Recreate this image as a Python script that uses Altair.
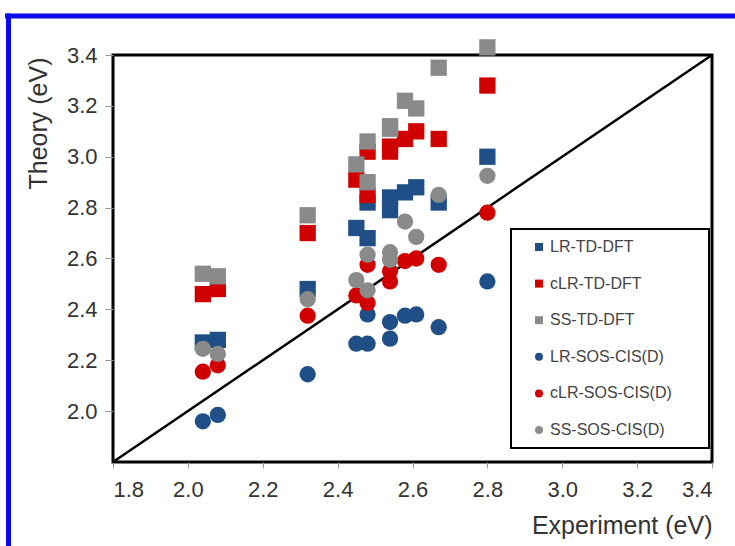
import altair as alt
import pandas as pd

series_names = ["LR-TD-DFT", "cLR-TD-DFT", "SS-TD-DFT",
                "LR-SOS-CIS(D)", "cLR-SOS-CIS(D)", "SS-SOS-CIS(D)"]
series_colors = ["#1f4f86", "#d00000", "#8a8a8a", "#1f4f86", "#d00000", "#8a8a8a"]
series_shapes = ["square", "square", "square", "circle", "circle", "circle"]

experiment = [2.04, 2.08, 2.32, 2.45, 2.48, 2.48, 2.54, 2.54, 2.58, 2.61, 2.67, 2.80]
lr_td = [2.27, 2.28, 2.48, 2.72, 2.68, 2.82, 2.79, 2.84, 2.86, 2.88, 2.82, 3.00]
clr_td = [2.46, 2.48, 2.70, 2.91, 3.02, 2.85, 3.02, 3.04, 3.07, 3.10, 3.07, 3.28]
ss_td = [2.54, 2.53, 2.77, 2.97, 3.06, 2.90, 3.11, 3.12, 3.22, 3.19, 3.35, 3.43]
lr_sos = [1.96, 1.985, 2.145, 2.265, 2.38, 2.265, 2.285, 2.35, 2.375, 2.38, 2.33, 2.51]
clr_sos = [2.155, 2.18, 2.375, 2.455, 2.575, 2.425, 2.51, 2.55, 2.59, 2.60, 2.575, 2.78]
ss_sos = [2.245, 2.225, 2.44, 2.515, 2.615, 2.475, 2.595, 2.625, 2.745, 2.685, 2.85, 2.925]

x_ticks = [1.8, 2.0, 2.2, 2.4, 2.6, 2.8, 3.0, 3.2, 3.4]
y_ticks = [2.0, 2.2, 2.4, 2.6, 2.8, 3.0, 3.2, 3.4]
diag_vals = [1.8, 3.4]

all_series = [lr_td, clr_td, ss_td, lr_sos, clr_sos, ss_sos]
rows = []
order = 0
for name, vals in zip(series_names, all_series):
    for xv, yv in zip(experiment, vals):
        rows.append({"series": name, "experiment": xv, "theory": yv, "order": order})
        order += 1
df = pd.DataFrame(rows)
diag_df = pd.DataFrame({"a": diag_vals, "b": diag_vals})
one = pd.DataFrame({"k": [0]})

FONT = "Liberation Sans"
W, H = 599, 407

xscale = alt.Scale(domain=[1.8, 3.4], nice=False, zero=False)
yscale = alt.Scale(domain=[1.8, 3.4], nice=False, zero=False)

x_axis = alt.Axis(values=x_ticks, format=".1f", grid=False, domain=False,
                  labelFont=FONT, labelFontSize=22, labelColor="#333333",
                  tickColor="#999999", tickSize=6, labelPadding=11,
                  title="Experiment (eV)", titleFont=FONT, titleFontSize=25,
                  titleFontWeight="normal", titleColor="#333333",
                  titleX=W, titleY=63, titleAlign="right", titleBaseline="middle")
y_axis = alt.Axis(values=y_ticks, format=".1f", grid=False, domain=False,
                  labelFont=FONT, labelFontSize=22, labelColor="#333333",
                  tickColor="#999999", tickSize=8, labelPadding=8,
                  title="Theory (eV)", titleFont=FONT, titleFontSize=25,
                  titleFontWeight="normal", titleColor="#333333",
                  titleX=-75, titleY=2, titleAngle=270, titleAlign="right",
                  titleBaseline="middle")

blue_top = alt.Chart(one).mark_rule(color="#0a0af0", strokeWidth=5).encode(
    x=alt.value(-108), x2=alt.value(640), y=alt.value(-39))
blue_left = alt.Chart(one).mark_rule(color="#0a0af0", strokeWidth=5).encode(
    x=alt.value(-104.5), y=alt.value(-41.5), y2=alt.value(500))

legend_box = alt.Chart(one).mark_rect(fill="white", stroke="black", strokeWidth=2).encode(
    x=alt.value(398), x2=alt.value(596), y=alt.value(174), y2=alt.value(393))

diag = alt.Chart(diag_df).mark_line(color="black", strokeWidth=2.5).encode(
    x=alt.X("a:Q", scale=xscale, axis=x_axis),
    y=alt.Y("b:Q", scale=yscale, axis=y_axis))

points = alt.Chart(df).mark_point(filled=True, opacity=1, strokeWidth=0, size=265).encode(
    x=alt.X("experiment:Q", scale=xscale, axis=x_axis),
    y=alt.Y("theory:Q", scale=yscale, axis=y_axis),
    color=alt.Color("series:N", scale=alt.Scale(domain=series_names, range=series_colors),
                    legend=alt.Legend(title=None, orient="none", legendX=418, legendY=184,
                                      padding=0, rowPadding=20.6, symbolSize=64,
                                      labelFont=FONT, labelFontSize=16,
                                      labelColor="#444444", labelOffset=3,
                                      symbolStrokeWidth=0)),
    shape=alt.Shape("series:N", scale=alt.Scale(domain=series_names, range=series_shapes)),
    order=alt.Order("order:Q"),
)

chart = alt.layer(blue_top, blue_left, legend_box, diag, points).properties(
    width=W, height=H, autosize="none",
    padding={"left": 113, "top": 55, "right": 23, "bottom": 84},
    background="white",
).configure_view(stroke="black", strokeWidth=3)

chart.save("out.html", embed_options={"renderer": "svg", "actions": False})
